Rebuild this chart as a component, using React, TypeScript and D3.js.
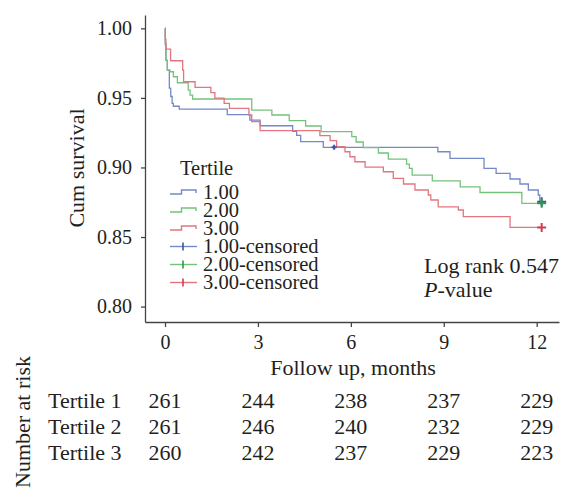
import React, { useEffect, useRef } from 'react'
import * as d3 from 'd3'

// values: months, cumulative survival (after each drop)
const t1Times = [0, 0.01, 0.03, 0.075, 0.14, 0.185, 0.23, 0.27, 0.46, 2.01, 2.74, 3.07, 4.12, 4.25, 4.38, 5.11, 8.81, 9.2, 10.3, 10.69, 11.14, 11.46, 11.73, 12.05, 12.1]
const t1Surv = [1, 0.989, 0.977, 0.97, 0.957, 0.951, 0.946, 0.944, 0.942, 0.938, 0.934, 0.93, 0.926, 0.923, 0.9185, 0.9145, 0.9113, 0.9065, 0.8994, 0.8958, 0.8917, 0.8881, 0.8838, 0.8802, 0.8753]

const t2Times = [0, 0.01, 0.03, 0.075, 0.16, 0.27, 0.4, 0.75, 0.81, 0.89, 2.8, 3.45, 4.01, 4.54, 5.04, 6.03, 6.17, 6.4, 6.89, 7.21, 7.8, 7.89, 7.98, 8.63, 9.53, 10.17, 11.52]
const t2Surv = [1, 0.988, 0.977, 0.97, 0.9688, 0.9652, 0.9609, 0.9556, 0.952, 0.9492, 0.9412, 0.9377, 0.9336, 0.9298, 0.9257, 0.9221, 0.9183, 0.9143, 0.9104, 0.906, 0.9024, 0.8994, 0.8945, 0.8904, 0.8861, 0.882, 0.8742]

const t3Times = [0, 0.01, 0.03, 0.18, 0.57, 0.6, 0.97, 1.48, 1.61, 1.91, 2.08, 2.71, 2.8, 3.07, 5.0, 5.33, 5.54, 5.81, 5.97, 6.13, 6.46, 7.05, 7.37, 7.7, 8.07, 8.5, 8.58, 8.82, 9.47, 9.63, 11.14]
const t3Surv = [1, 0.992, 0.985, 0.9767, 0.97, 0.9616, 0.9576, 0.9538, 0.9499, 0.9461, 0.9425, 0.9377, 0.933, 0.9265, 0.9229, 0.9193, 0.9149, 0.9113, 0.9077, 0.9041, 0.9003, 0.8969, 0.8922, 0.8881, 0.8838, 0.8802, 0.8766, 0.8717, 0.8694, 0.8646, 0.8569]

const lastFollowUp = 12.16
const t1Censored = [5.46, 12.16]
const t2Censored = [12.16]
const t3Censored = [12.16]

const legendLabels = ['1.00', '2.00', '3.00', '1.00-censored', '2.00-censored', '3.00-censored']

const xTicks = [0, 3, 6, 9, 12]
const yTicks = [0.8, 0.85, 0.9, 0.95, 1.0]

const riskRows = ['Tertile 1', 'Tertile 2', 'Tertile 3']
const risk1 = [261, 244, 238, 237, 229]
const risk2 = [261, 246, 240, 232, 229]
const risk3 = [260, 242, 237, 229, 223]

const lineColors = ['#7589c8', '#74c27c', '#e3757e']
const censorColors = ['#3a55a6', '#2c9944', '#d63a4c']
const FONT = "'Liberation Serif', 'Times New Roman', serif"
const INK = '#231f20'

export default function App() {
  const svgRef = useRef<SVGSVGElement>(null)

  useEffect(() => {
    const svg = d3.select(svgRef.current)
    svg.selectAll('*').remove()

    const x = d3.scaleLinear().domain([-0.646, 12.72]).range([145, 559])
    const y = d3.scaleLinear().domain([0.7889, 1.0096]).range([322, 15])

    const series = [
      { times: t1Times, surv: t1Surv, cens: t1Censored },
      { times: t2Times, surv: t2Surv, cens: t2Censored },
      { times: t3Times, surv: t3Surv, cens: t3Censored },
    ]

    // axes
    const yAxis = d3.axisLeft(y).tickValues(yTicks).tickFormat(d3.format('.2f')).tickSize(4).tickSizeOuter(0).tickPadding(9)
    const xAxis = d3.axisBottom(x).tickValues(xTicks).tickFormat(d3.format('d')).tickSize(5).tickSizeOuter(0).tickPadding(8)

    const yg = svg.append('g').attr('transform', 'translate(145,0)').call(yAxis)
    const xg = svg.append('g').attr('transform', 'translate(0,322)').call(xAxis)
    for (const g of [xg, yg]) {
      g.select('.domain').attr('stroke', '#444').attr('stroke-width', 1.3)
      g.selectAll('.tick line').attr('stroke', '#444').attr('stroke-width', 1.3)
      g.selectAll('text').attr('font-family', FONT).attr('font-size', 20).attr('fill', INK)
    }

    // survival curves
    const line = d3.line<[number, number]>()
      .x(d => x(d[0]))
      .y(d => y(d[1]))
      .curve(d3.curveStepAfter)

    series.forEach((s, i) => {
      const pts: [number, number][] = s.times.map((t, k) => [t, s.surv[k]])
      pts.push([lastFollowUp, s.surv[s.surv.length - 1]])
      svg.append('path')
        .attr('d', line(pts))
        .attr('fill', 'none')
        .attr('stroke', lineColors[i])
        .attr('stroke-width', 1.3)
    })

    // censored marks
    series.forEach((s, i) => {
      s.cens.forEach(t => {
        const k = d3.bisectRight(s.times, t) - 1
        const cx = x(t), cy = y(s.surv[k])
        const h = t === lastFollowUp ? 4.5 : 2.5
        svg.append('path')
          .attr('d', `M${cx - h},${cy}H${cx + h}M${cx},${cy - h}V${cy + h}`)
          .attr('stroke', censorColors[i])
          .attr('stroke-width', 2)
      })
    })

    // legend
    const leg = svg.append('g').attr('font-family', FONT).attr('font-size', 20.5).attr('fill', INK)
    leg.append('text').attr('x', 180).attr('y', 175).text('Tertile')
    legendLabels.forEach((lab, i) => {
      const b = 199 + i * 18
      leg.append('text').attr('x', 203).attr('y', b).text(lab)
      if (i < 3) {
        leg.append('path')
          .attr('d', `M170,${b - 5}H181.5V${b - 9}H196V${b - 6}`)
          .attr('fill', 'none')
          .attr('stroke', lineColors[i])
          .attr('stroke-width', 1.4)
      } else {
        leg.append('path')
          .attr('d', `M170,${b - 6.5}H197`)
          .attr('stroke', lineColors[i - 3])
          .attr('stroke-width', 1.4)
        leg.append('path')
          .attr('d', `M183,${b - 10.5}V${b - 2.5}`)
          .attr('stroke', censorColors[i - 3])
          .attr('stroke-width', 1.6)
      }
    })

    // log rank text
    const lr = svg.append('g').attr('font-family', FONT).attr('font-size', 22).attr('fill', INK)
    lr.append('text').attr('x', 424).attr('y', 273).text('Log rank 0.547')
    const pv = lr.append('text').attr('x', 424).attr('y', 297)
    pv.append('tspan').attr('font-style', 'italic').text('P')
    pv.append('tspan').text('-value')

    // axis titles
    const titles = svg.append('g').attr('font-family', FONT).attr('font-size', 22).attr('fill', INK)
    titles.append('text').attr('x', 353).attr('y', 375).attr('text-anchor', 'middle').text('Follow up, months')
    titles.append('text').attr('transform', 'translate(84,168) rotate(-90)').attr('text-anchor', 'middle').text('Cum survival')
    titles.append('text').attr('transform', 'translate(30,422) rotate(-90)').attr('text-anchor', 'middle').text('Number at risk')

    // number at risk table
    const tbl = svg.append('g').attr('font-family', FONT).attr('font-size', 22).attr('fill', INK)
    const risks = [risk1, risk2, risk3]
    riskRows.forEach((r, i) => {
      const b = 408 + i * 26
      tbl.append('text').attr('x', 48).attr('y', b).text(r)
      risks[i].forEach((n, j) => {
        tbl.append('text').attr('x', x(xTicks[j])).attr('y', b).attr('text-anchor', 'middle').text(n)
      })
    })
  }, [])

  return (
    <svg ref={svgRef} width={564} height={494} style={{ position: 'absolute', left: 0, top: 0, background: '#fff' }} />
  )
}
